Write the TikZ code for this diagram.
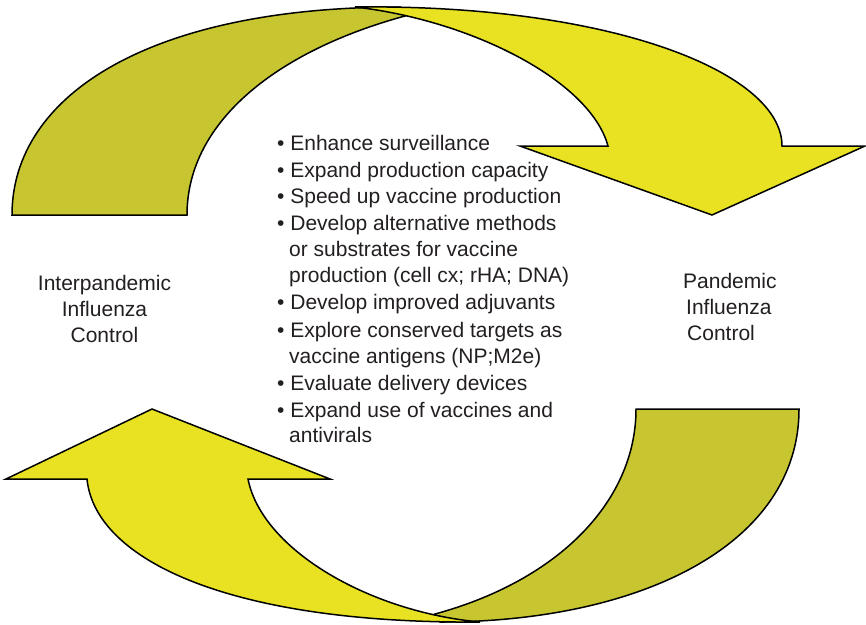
\documentclass[tikz,border=0pt]{standalone}
\usepackage{fontspec}
\setmainfont{Liberation Sans}
\definecolor{olive}{RGB}{199,198,48}
\definecolor{yell}{RGB}{232,226,34}
\definecolor{txt}{RGB}{35,31,32}
\begin{document}
\begin{tikzpicture}[x=1pt,y=-1pt,
  band/.style={draw=black,line width=1.5pt,line join=miter},
  lbl/.style={inner sep=0pt,anchor=base west,text=txt,font=\fontsize{21}{25}\selectfont},
  clbl/.style={inner sep=0pt,anchor=base,text=txt,font=\fontsize{21}{25}\selectfont}]
\useasboundingbox[fill=white] (0,0) rectangle (866,624);
% top arrow: back (olive) band
\filldraw[band,fill=olive] (12,215) .. controls (12,95) and (150,7) .. (400,7)
  -- (405,16) .. controls (280,50) and (187,120) .. (187,215) -- cycle;
% top arrow: front (yellow) band with head
\filldraw[band,fill=yell] (355,7) .. controls (610,4) and (782,72) .. (782,146)
  -- (865,146) -- (712,215) -- (520,146) -- (608,146)
  .. controls (590,80) and (470,20) .. (355,7) -- cycle;
% bottom arrow: back (olive) band
\filldraw[band,fill=olive] (636,409) -- (799,409) .. controls (799,545) and (640,622) .. (440,622)
  -- (435,614) .. controls (560,580) and (636,500) .. (636,409) -- cycle;
% bottom arrow: front (yellow) band with head
\filldraw[band,fill=yell] (480,622) .. controls (230,624) and (95,560) .. (87,479)
  -- (6,479) -- (152,409) -- (330,479) -- (248,479)
  .. controls (262,550) and (370,612) .. (480,622) -- cycle;
% side labels
\node[clbl] (l1) at (104.5,290) {Interpandemic};
\node[clbl] (l2) at (104.5,316) {Influenza};
\node[clbl] (l3) at (104.5,342) {Control};
\node[lbl] (r1) at (683,288) {Pandemic};
\node[lbl] (r2) at (686,314) {Influenza};
\node[lbl] (r3) at (687,340) {Control};
% list
\node[lbl] (b1) at (277,150) {• Enhance surveillance};
\node[lbl] (b2) at (277,177) {• Expand production capacity};
\node[lbl] (b3) at (277,203) {• Speed up vaccine production};
\node[lbl] (b4) at (277,230) {• Develop alternative methods};
\node[lbl] (b4b) at (289,256) {or substrates for vaccine};
\node[lbl] (b4c) at (289,282) {production (cell cx; rHA; DNA)};
\node[lbl] (b5) at (277,309) {• Develop improved adjuvants};
\node[lbl] (b6) at (277,337) {• Explore conserved targets as};
\node[lbl] (b6b) at (289,363) {vaccine antigens (NP;M2e)};
\node[lbl] (b7) at (277,390) {• Evaluate delivery devices};
\node[lbl] (b8) at (277,417) {• Expand use of vaccines and};
\node[lbl] (b8b) at (289,442) {antivirals};
\end{tikzpicture}
\end{document}
